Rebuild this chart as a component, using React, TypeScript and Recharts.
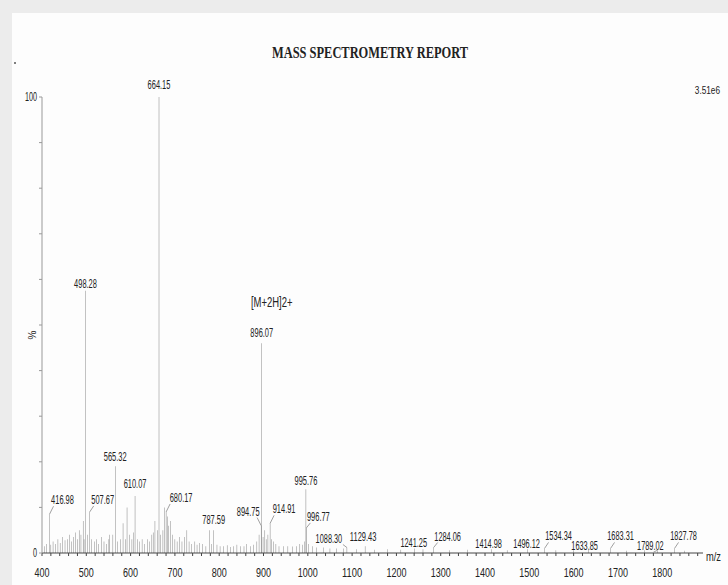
import React from 'react';
import { ComposedChart, Bar, XAxis, YAxis, LabelList } from 'recharts';

// labelled peaks (m/z and relative intensity in %)
const PEAK_MZ = [
  416.98, 498.28, 507.67, 565.32, 610.07, 664.15, 680.17, 787.59, 894.75, 896.07, 914.91, 995.76,
  996.77, 1088.3, 1129.43, 1241.25, 1284.06, 1414.98, 1496.12, 1534.34, 1633.85, 1683.31, 1789.02, 1827.78,
];
const PEAK_INT = [
  8.5, 57.5, 9, 19, 12.5, 100, 9, 5, 6, 46, 6.5, 14,
  5.5, 1.2, 1.5, 1, 1.2, 0.8, 0.8, 1, 0.7, 1, 0.6, 1,
];

// unlabelled background peaks
const NOISE_MZ = [
  405, 410, 420, 425, 430, 436, 441, 447, 452, 458, 462, 466, 471, 476, 480, 484, 488, 493, 495,
  503, 512, 518, 523, 528, 534, 540, 546, 551, 553, 560, 571, 577, 583, 588, 592, 597, 603, 606,
  615, 620, 626, 632, 638, 643, 648, 651, 655, 661, 668, 673, 677, 683, 686, 690, 695, 700, 705,
  711, 716, 722, 727, 732, 738, 745, 750, 756, 762, 770, 778, 783, 795, 802, 810, 818, 825, 833,
  840, 848, 856, 862, 870, 878, 885, 890, 899, 903, 906, 910, 918, 922, 928, 935, 945, 955, 965,
  975, 982, 988, 992, 1002, 1010, 1020, 1035, 1050, 1065, 1080, 1110, 1150, 1180, 1210, 1260,
  1320, 1360, 1450, 1560, 1600, 1720, 1760, 1850,
];
const NOISE_INT = [
  1.5, 2, 1.8, 2.5, 2, 3, 2.2, 3.5, 2.8, 3, 4, 2.5, 3.5, 4.5, 3, 5, 4, 7, 3,
  4, 3, 2.5, 3, 2, 3.5, 2.5, 2, 3, 4, 4, 2.5, 3, 6.5, 3, 10, 4, 3, 4.5,
  3, 2.5, 3, 2, 3, 2.5, 4, 4.5, 7, 5, 4, 5, 10, 8, 6, 7, 4, 3, 2.5,
  3.5, 2.5, 3.5, 5, 2.5, 2, 2.5, 1.8, 2.2, 2, 1.5, 5, 2, 1.8, 1.5, 1.5, 1.7, 1.3, 1.5,
  1.8, 1.5, 1.5, 2, 1.5, 1.8, 2.5, 4, 3.5, 5, 3, 4, 3, 2.5, 2, 1.5, 1.5, 1.5, 1.4,
  1.5, 2, 1.8, 2.5, 2, 1.5, 1.2, 1.2, 1, 1, 1, 0.8, 0.7, 0.8, 0.7, 0.8,
  0.6, 0.7, 0.6, 0.6, 0.6, 0.5, 0.6, 0.5,
];

const X_TICKS = Array.from({ length: 75 }, (_, i) => 400 + i * 20);
const Y_TICKS = [0, 10, 20, 30, 40, 50, 60, 70, 80, 90, 100];

const spectrum = [
  ...PEAK_MZ.map((mz, i) => ({ mz, intensity: PEAK_INT[i], label: mz.toFixed(2) })),
  ...NOISE_MZ.map((mz, i) => ({ mz, intensity: NOISE_INT[i], label: null })),
].sort((a, b) => a.mz - b.mz);

const FONT = "'Liberation Sans', Arial, sans-serif";
const INK = '#222';

// label shift from the peak top: [dx, dy] in px
const LABEL_SHIFT: { [key: string]: [number, number] } = {
  '416.98': [13, 10],
  '498.28': [0, 3],
  '507.67': [13, 8],
  '565.32': [0, 5],
  '610.07': [0, 8],
  '664.15': [0, 8],
  '680.17': [15, 10],
  '787.59': [0, 6],
  '894.75': [-13, 10],
  '896.07': [0, 6],
  '914.91': [14, 10],
  '995.76': [0, 4],
  '996.77': [12, 7],
  '1088.30': [-18, 5],
  '1129.43': [-2, 5],
  '1241.25': [-1, 1],
  '1284.06': [14, 7],
  '1414.98': [-3, 1],
  '1496.12': [-1, 1],
  '1534.34': [14, 8],
  '1633.85': [-4, 0],
  '1683.31': [10, 8],
  '1789.02': [-7, 0],
  '1827.78': [9, 8],
};

// condensed text: squeeze glyphs to a fixed advance per character
const Narrow = ({ x, y, size, per, anchor = 'middle', children }: any) => {
  const s = String(children);
  return (
    <text x={x} y={y} textAnchor={anchor} fontSize={size} fontFamily={FONT} fill={INK}
      textLength={s.length * per} lengthAdjust="spacingAndGlyphs">
      {s}
    </text>
  );
};

const renderPeakLabel = (props: any) => {
  const { value } = props;
  if (!value) return null;
  const vb = props.viewBox || props;
  const x = (vb.x ?? props.x) + (vb.width ?? props.width ?? 0) / 2;
  const top = vb.y ?? props.y;
  const [dx, dy] = LABEL_SHIFT[value] || [0, 4];
  const base = top - dy;
  const sign = dx > 0 ? 1 : -1;
  return (
    <g>
      {Math.abs(dx) > 6 && (
        <line x1={x} y1={top} x2={x + sign * 4} y2={base + 2} stroke="#888" strokeWidth={0.8} />
      )}
      <Narrow x={x + dx} y={base} size={12} per={3.8}>{value}</Narrow>
      {value === '896.07' && (
        <Narrow x={x + 10} y={base - 30} size={14} per={5.2}>[M+2H]2+</Narrow>
      )}
    </g>
  );
};

const XTick = (props: any) => {
  const { x, y, payload } = props;
  const v = payload.value;
  if (v % 100 !== 0 || v > 1800) return null;
  return <Narrow x={x} y={y + 19} size={13.5} per={5.0}>{v}</Narrow>;
};

const YTick = (props: any) => {
  const { x, y, payload } = props;
  const v = payload.value;
  if (v !== 0 && v !== 100) return null;
  return <Narrow x={x} y={y + 4} size={13.5} per={4.0} anchor="end">{v}</Narrow>;
};

export default function App() {
  return (
    <div style={{ position: 'absolute', left: 0, top: 0, width: 728, height: 585, background: '#ececec', overflow: 'hidden' }}>
      <div style={{ position: 'absolute', left: 12, top: 13, width: 716, height: 572, background: '#fdfdfd' }} />
      <div style={{ position: 'absolute', left: 0, top: 0 }}>
        <ComposedChart width={728} height={585} data={spectrum} margin={{ top: 97, right: 25, bottom: 2, left: 0 }}>
          <XAxis
            dataKey="mz"
            type="number"
            domain={[400, 1892]}
            ticks={X_TICKS}
            interval={0}
            tick={<XTick />}
            tickSize={3}
            height={30}
            stroke="#444"
            allowDataOverflow
          />
          <YAxis
            type="number"
            domain={[0, 100]}
            ticks={Y_TICKS}
            interval={0}
            tick={<YTick />}
            tickSize={3}
            width={42}
            stroke="#999"
            allowDataOverflow
          />
          <Bar dataKey="intensity" barSize={1} fill="#6a6a6a" isAnimationActive={false}>
            <LabelList dataKey="label" content={renderPeakLabel} />
          </Bar>
        </ComposedChart>
      </div>
      <svg width={728} height={585} style={{ position: 'absolute', left: 0, top: 0, pointerEvents: 'none' }}>
        <text x={272} y={58} fontSize={16} fontWeight="bold" fontFamily="'Liberation Serif', serif" fill="#222"
          textLength={196} lengthAdjust="spacingAndGlyphs">
          MASS SPECTROMETRY REPORT
        </text>
        <Narrow x={720} y={94} size={11} per={4.2} anchor="end">3.51e6</Narrow>
        <text x={36} y={335} fontSize={10} fontFamily={FONT} fill={INK} textAnchor="middle"
          transform="rotate(-90 36 335)">%</text>
        <Narrow x={706} y={561} size={12} per={5} anchor="start">m/z</Narrow>
        <circle cx={15} cy={63} r={1} fill="#555" />
      </svg>
    </div>
  );
}
